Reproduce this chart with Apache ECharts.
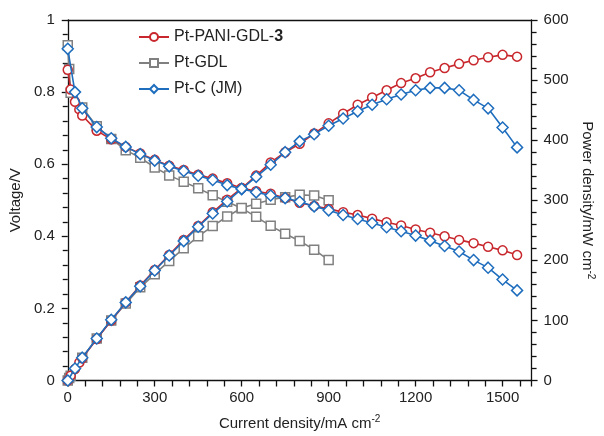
<!DOCTYPE html>
<html>
<head>
<meta charset="utf-8">
<script src="https://cdn.jsdelivr.net/npm/echarts@6/dist/echarts.min.js"></script>
<style>
html,body{margin:0;padding:0;background:#fff;}
#chart{width:604px;height:436px;}
</style>
</head>
<body>
<div id="chart"></div>
<script>
// Current density (mA cm-2)
var currentPANI = [0,10,25,40,50,100,150,200,250,300,350,400,450,500,550,600,650,700,750,800,850,900,950,1000,1050,1100,1150,1200,1250,1300,1350,1400,1450,1500,1550];
var voltagePANI = [0.862,0.807,0.773,0.752,0.735,0.693,0.669,0.648,0.630,0.612,0.596,0.584,0.571,0.560,0.547,0.534,0.525,0.518,0.506,0.493,0.484,0.476,0.467,0.459,0.449,0.439,0.430,0.419,0.410,0.400,0.390,0.381,0.371,0.361,0.348];
var powerPANI = [0,8,19,30,37,69,100,130,158,184,209,234,257,280,301,320,341,363,380,394,411,428,444,459,471,483,495,503,513,520,527,533,538,542,539];

var currentGDL = [0,5,10,50,100,150,200,250,300,350,400,450,500,550,600,650,700,750,800,850,900];
var voltageGDL = [0.930,0.864,0.798,0.757,0.705,0.670,0.639,0.618,0.591,0.569,0.551,0.533,0.514,0.496,0.478,0.454,0.429,0.407,0.387,0.363,0.334];
var powerGDL = [0,4,8,38,70,100,128,155,177,199,220,240,257,273,287,294,301,305,309,308,300];

var currentJM = [0,25,50,100,150,200,250,300,350,400,450,500,550,600,650,700,750,800,850,900,950,1000,1050,1100,1150,1200,1250,1300,1350,1400,1450,1500,1550];
var voltageJM = [0.920,0.800,0.755,0.703,0.672,0.648,0.628,0.610,0.594,0.581,0.568,0.556,0.542,0.531,0.522,0.513,0.506,0.496,0.483,0.472,0.459,0.448,0.437,0.425,0.414,0.402,0.388,0.373,0.358,0.334,0.313,0.280,0.250];
var powerJM = [0,20,38,70,101,130,157,183,208,232,256,278,298,319,339,359,380,398,410,424,436,448,459,468,476,483,487,487,483,467,453,421,388];

var seriesNames = ['Pt-PANI-GDL-3','Pt-GDL','Pt-C (JM)'];
var xTicks = [0,300,600,900,1200,1500];
var vTicks = [0,0.2,0.4,0.6,0.8,1];
var pTicks = [0,100,200,300,400,500,600];

function pairs(xs, ys){ return xs.map(function(x,i){ return [x, ys[i]]; }); }

var RED = '#c8282d', GRAY = '#808080', BLUE = '#1f6ebe';
var FONT = 'Liberation Sans, Arial, sans-serif';

function mk(name, color, symbol, size, data, yIdx, z){
  return {
    name: name, type: 'line', yAxisIndex: yIdx, data: data,
    symbol: symbol, symbolSize: size, showSymbol: true,
    color: color,
    lineStyle: {color: color, width: 1.6},
    itemStyle: {color: '#fff', borderColor: color, borderWidth: 1.5},
    z: z, animation: false
  };
}
function axisLine(){ return {show: true, onZero: false, lineStyle: {color: '#111', width: 1.3}}; }
function major(){ return {show: true, inside: false, length: 6, lineStyle: {color: '#111', width: 1.3}}; }
function minor(len){ return {show: true, splitNumber: 5, length: len, lineStyle: {color: '#111', width: 1.3}}; }
function supName(){
  return {rich: {a: {fontSize: 15, color: '#222', fontFamily: FONT, lineHeight: 18},
                 s: {fontSize: 10, color: '#222', fontFamily: FONT, verticalAlign: 'top', lineHeight: 18, padding: [0,0,6,0]}}};
}

var chart = echarts.init(document.getElementById('chart'), null, {renderer: 'canvas'});
chart.setOption({
  animation: false,
  backgroundColor: '#fff',
  textStyle: {fontFamily: FONT},
  grid: {left: 67, right: 61, top: 20, bottom: 51, show: false, containLabel: false},
  legend: {
    orient: 'vertical', left: 133, top: 24, itemWidth: 30, itemHeight: 10, itemGap: 10,
    data: seriesNames,
    textStyle: {fontSize: 16, color: '#222', fontFamily: FONT,
      rich: {n: {fontSize: 16, color: '#222', fontFamily: FONT}, b: {fontSize: 16, fontWeight: 'bold', color: '#222', fontFamily: FONT}}},
    formatter: function(name){
      if (name === 'Pt-PANI-GDL-3') return '{n|Pt-PANI-GDL-}{b|3}';
      return '{n|' + name + '}';
    }
  },
  xAxis: [{
    type: 'value', min: xTicks[0], max: 1600, interval: xTicks[1]-xTicks[0], position: 'bottom',
    name: '{a|Current density/mA cm}{s|-2}', nameLocation: 'middle', nameGap: 34,
    nameTextStyle: supName(),
    axisLine: axisLine(), axisTick: major(), minorTick: minor(6),
    axisLabel: {fontSize: 15, color: '#222', margin: 10, showMaxLabel: false, fontFamily: FONT,
      formatter: function(v){ return String(v); }},
    splitLine: {show: false}
  }, {
    type: 'value', min: xTicks[0], max: 1600, interval: 300, position: 'top',
    axisLine: axisLine(), axisTick: {show: false}, axisLabel: {show: false}, splitLine: {show: false}
  }],
  yAxis: [{
    type: 'value', min: vTicks[0], max: vTicks[vTicks.length-1], interval: 0.2, position: 'left',
    name: 'Voltage/V', nameLocation: 'middle', nameGap: 44,
    nameTextStyle: {fontSize: 15, color: '#222', fontFamily: FONT},
    axisLine: axisLine(), axisTick: major(), minorTick: minor(5),
    axisLabel: {fontSize: 15, color: '#222', margin: 13, fontFamily: FONT,
      formatter: function(v){ return String(Math.round(v*10)/10); }},
    splitLine: {show: false}
  }, {
    type: 'value', min: pTicks[0], max: pTicks[pTicks.length-1], interval: 100, position: 'right',
    name: '{a|Power density/mW cm}{s|-2}', nameLocation: 'middle', nameGap: 40, nameRotate: -90,
    nameTextStyle: supName(),
    axisLine: axisLine(), axisTick: major(), minorTick: minor(5),
    axisLabel: {fontSize: 15, color: '#222', margin: 12, fontFamily: FONT},
    splitLine: {show: false}
  }],
  series: [
    mk(seriesNames[1], GRAY, 'rect', 9, pairs(currentGDL, voltageGDL), 0, 2),
    mk(seriesNames[1], GRAY, 'rect', 9, pairs(currentGDL, powerGDL), 1, 2),
    mk(seriesNames[0], RED, 'circle', 9, pairs(currentPANI, voltagePANI), 0, 3),
    mk(seriesNames[0], RED, 'circle', 9, pairs(currentPANI, powerPANI), 1, 3),
    mk(seriesNames[2], BLUE, 'diamond', 11, pairs(currentJM, voltageJM), 0, 4),
    mk(seriesNames[2], BLUE, 'diamond', 11, pairs(currentJM, powerJM), 1, 4)
  ]
});
</script>
</body>
</html>
